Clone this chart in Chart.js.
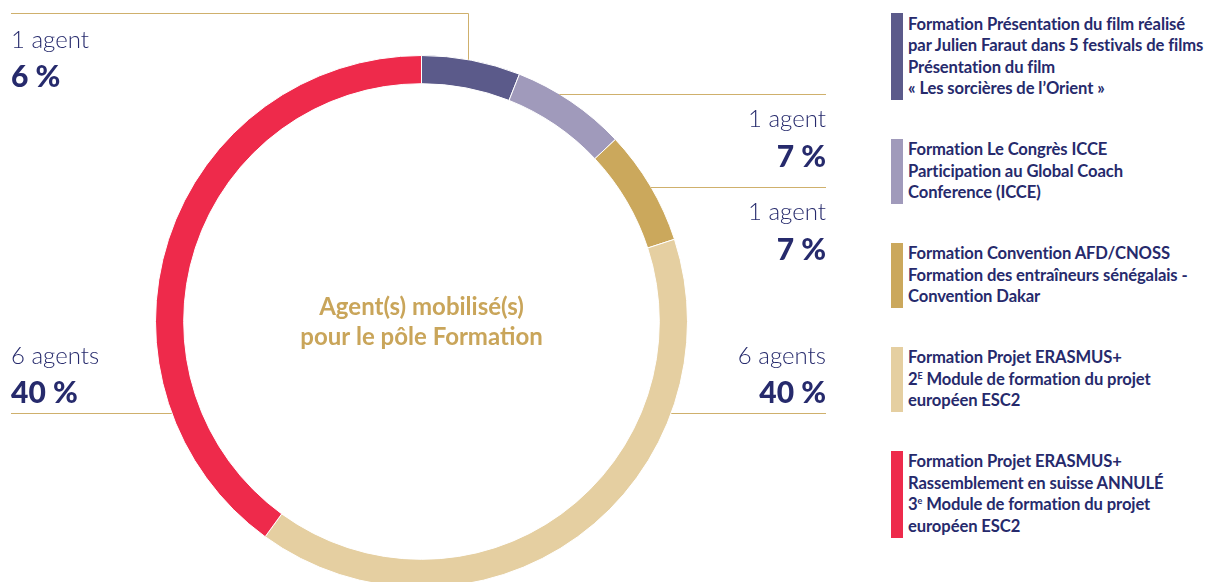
<!DOCTYPE html>
<html lang="fr">
<head>
<meta charset="utf-8">
<title>Agent(s) mobilisé(s) pour le pôle Formation</title>
<script src="https://cdn.jsdelivr.net/npm/chart.js@4.4.0/dist/chart.umd.min.js"></script>
<style>
  html, body { margin: 0; padding: 0; background: #fff; }
  body { width: 1219px; height: 582px; overflow: hidden; position: relative; font-family: Lato, "Noto Sans", sans-serif; }
  #chart-box { position: absolute; left: 0; top: 0; width: 880px; height: 640px; }
  #legend { position: absolute; left: 891px; top: 13px; display: flex; flex-direction: column; gap: 38.5px; }
  .legend-item { display: flex; align-items: stretch; }
  .legend-bar { width: 12px; flex: none; }
  .legend-text { padding: 0.5px 0 0.5px 5px; font-weight: 700; font-size: 16.6px; line-height: 21.5px; color: #262a6c; white-space: nowrap; letter-spacing: -0.1px; }
  .legend-text sup { font-size: 9px; vertical-align: 6px; line-height: 0; }
</style>
</head>
<body>
<div id="chart-box"><canvas id="donut"></canvas></div>
<div id="legend"></div>

<script>
// Data
const categories = [
  'Formation Présentation du film réalisé\npar Julien Faraut dans 5 festivals de films\nPrésentation du film\n« Les sorcières de l’Orient »',
  'Formation Le Congrès ICCE\nParticipation au Global Coach\nConference (ICCE)',
  'Formation Convention AFD/CNOSS\nFormation des entraîneurs sénégalais -\nConvention Dakar',
  'Formation Projet ERASMUS+\n2<sup>E</sup> Module de formation du projet\neuropéen ESC2',
  'Formation Projet ERASMUS+\nRassemblement en suisse ANNULÉ\n3<sup>e</sup> Module de formation du projet\neuropéen ESC2'
];
const agents = [1, 1, 1, 6, 6];
const percents = [6, 7, 7, 40, 40];
const colors = ['#5b5a8a', '#a09abb', '#cba85c', '#e5cfa1', '#ee2a4b'];
const centerTitle = ['Agent(s) mobilisé(s)', 'pour le pôle Formation'];

const navy = '#262a6c';
const lineGold = '#cfb06c';

// Where each callout sits (layout only)
const callouts = [
  { side: 'left',  x: 11,  lineY: 13,  textY: [40, 77],   elbow: true },
  { side: 'right', x: 826, lineY: 94,  textY: [119, 157] },
  { side: 'right', x: 826, lineY: 187, textY: [212, 250] },
  { side: 'right', x: 826, lineY: 413, textY: [356, 393] },
  { side: 'left',  x: 11,  lineY: 413, textY: [356, 393] }
];

// HTML legend built from the categories
const legendEl = document.getElementById('legend');
legendEl.innerHTML = categories.map((c, i) => `
  <div class="legend-item">
    <div class="legend-bar" style="background:${colors[i]}"></div>
    <div class="legend-text">${c.split('\n').join('<br>')}</div>
  </div>
`).join('');

const agentLabel = n => n + (n > 1 ? ' agents' : ' agent');

// Center title + callout lines and labels
const decorations = {
  id: 'decorations',
  afterDatasetsDraw(chart) {
    const ctx = chart.ctx;
    const meta = chart.getDatasetMeta(0);
    const arc0 = meta.data[0];
    const cx = arc0.x, cy = arc0.y, R = arc0.outerRadius;

    ctx.save();
    // centre text
    ctx.fillStyle = '#c9a55a';
    ctx.font = '700 24px Lato, "Noto Sans", sans-serif';
    ctx.textAlign = 'center';
    ctx.textBaseline = 'middle';
    ctx.fillText(centerTitle[0], cx, cy - 14);
    ctx.fillText(centerTitle[1], cx, cy + 16);

    ctx.strokeStyle = lineGold;
    ctx.lineWidth = 1;
    callouts.forEach((c, i) => {
      const arc = meta.data[i];
      ctx.beginPath();
      if (c.elbow) {
        const mid = (arc.startAngle + arc.endAngle) / 2;
        const ax = Math.round(cx + R * Math.cos(mid) - 3) + 0.5;
        const ay = cy - Math.sqrt(R * R - (ax - cx) * (ax - cx));
        ctx.moveTo(ax, ay);
        ctx.lineTo(ax, c.lineY + 0.5);
        ctx.lineTo(c.x, c.lineY + 0.5);
      } else {
        const dx = Math.sqrt(Math.max(R * R - (c.lineY - cy) * (c.lineY - cy), 0));
        const ringX = c.side === 'right' ? cx + dx : cx - dx;
        ctx.moveTo(ringX, c.lineY + 0.5);
        ctx.lineTo(c.x, c.lineY + 0.5);
      }
      ctx.stroke();

      ctx.fillStyle = navy;
      ctx.textAlign = c.side === 'right' ? 'right' : 'left';
      ctx.textBaseline = 'middle';
      ctx.font = '300 24px Lato, "Noto Sans", sans-serif';
      ctx.fillText(agentLabel(agents[i]), c.x, c.textY[0]);
      ctx.font = '900 30px Lato, "Noto Sans", sans-serif';
      ctx.fillText(percents[i] + ' %', c.x, c.textY[1]);
    });
    ctx.restore();
  }
};

new Chart(document.getElementById('donut'), {
  type: 'doughnut',
  data: {
    labels: categories,
    datasets: [{
      data: percents,
      backgroundColor: colors,
      borderColor: '#ffffff',
      borderWidth: 1
    }]
  },
  options: {
    responsive: true,
    maintainAspectRatio: false,
    animation: false,
    cutout: '89.4%',
    layout: { padding: { left: 155, right: 192, top: 55, bottom: 52 } },
    plugins: {
      legend: { display: false },
      tooltip: { enabled: false }
    }
  },
  plugins: [decorations]
});
</script>
</body>
</html>
